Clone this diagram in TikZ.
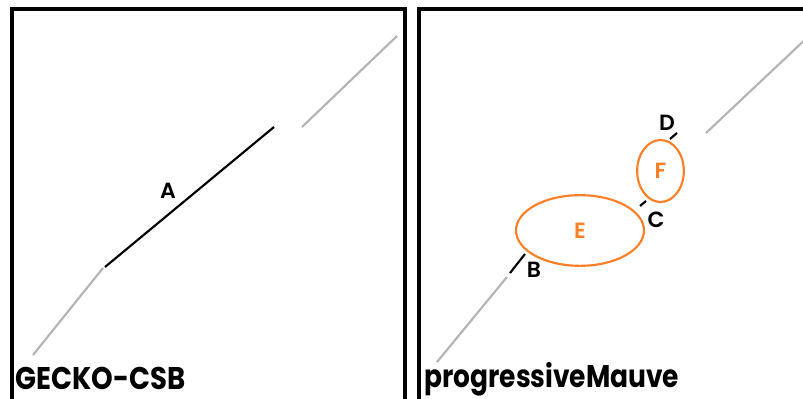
\documentclass[tikz,border=0pt]{standalone}
\usepackage{fontspec}
\usepackage{tikz}
\usepackage{xcolor}
\usetikzlibrary{shapes.geometric, positioning, calc}
\setmainfont{Poppins}
\newfontfamily\labelfont{Poppins SemiBold}
\newfontfamily\titlefont{Poppins Bold}
\definecolor{PaintOrange}{HTML}{FF7F27}
\definecolor{LineGray}{HTML}{B4B4B4}

\tikzset{
    panel/.style={draw=black, line width=2.4pt},
    fragment/.style={LineGray, line width=1.6pt},
    match/.style={black, line width=1.6pt},
    tag/.style={font=\labelfont\fontsize{16.5}{18}\selectfont, inner sep=0pt},
    gap/.style={draw=PaintOrange, line width=1.6pt, ellipse, inner sep=0pt,
        text=PaintOrange, font=\labelfont\fontsize{16.5}{18}\selectfont},
    title/.style={font=\titlefont\fontsize{23.5}{26}\selectfont, inner sep=0pt, anchor=base west}
}

\begin{document}
\begin{tikzpicture}[x=0.75pt, y=-0.75pt]
    \clip (0,0) rectangle (803,399);
    \fill[white] (0,0) rectangle (803,399);

    % Draw the two panels
    \draw[panel] (12,9) rectangle (405,430);
    \draw[panel] (419,9) rectangle (830,430);

    % Left panel: one long match A
    \draw[fragment] (33,355) -- (103,268);
    \draw[match] (105,267) -- (274,127);
    \draw[fragment] (302,127) -- (397,36);
    \node[tag] (A) at (168,191) {A};

    % Right panel: short matches B, C, D around gaps E and F
    \draw[fragment] (437,362) -- (507,277);
    \draw[match] (510,273) -- (525,254);
    \node[tag] (B) at (534,270) {B};
    \node[gap, minimum width=96pt, minimum height=53pt] (E) at (580,230.5) {E};
    \draw[match] (640,206) -- (646,201);
    \node[tag] (C) at (656,220) {C};
    \node[gap, minimum width=35pt, minimum height=46.5pt] (F) at (660.5,171) {F};
    \draw[match] (670,139) -- (677,133);
    \node[tag] (D) at (667,123) {D};
    \draw[fragment] (706,133) -- (810,35);

    % Tool names
    \node[title, xscale=0.88] (gecko) at (15,389) {GECKO-CSB};
    \node[title, xscale=0.845] (mauve) at (424,387) {progressiveMauve};
\end{tikzpicture}
\end{document}
